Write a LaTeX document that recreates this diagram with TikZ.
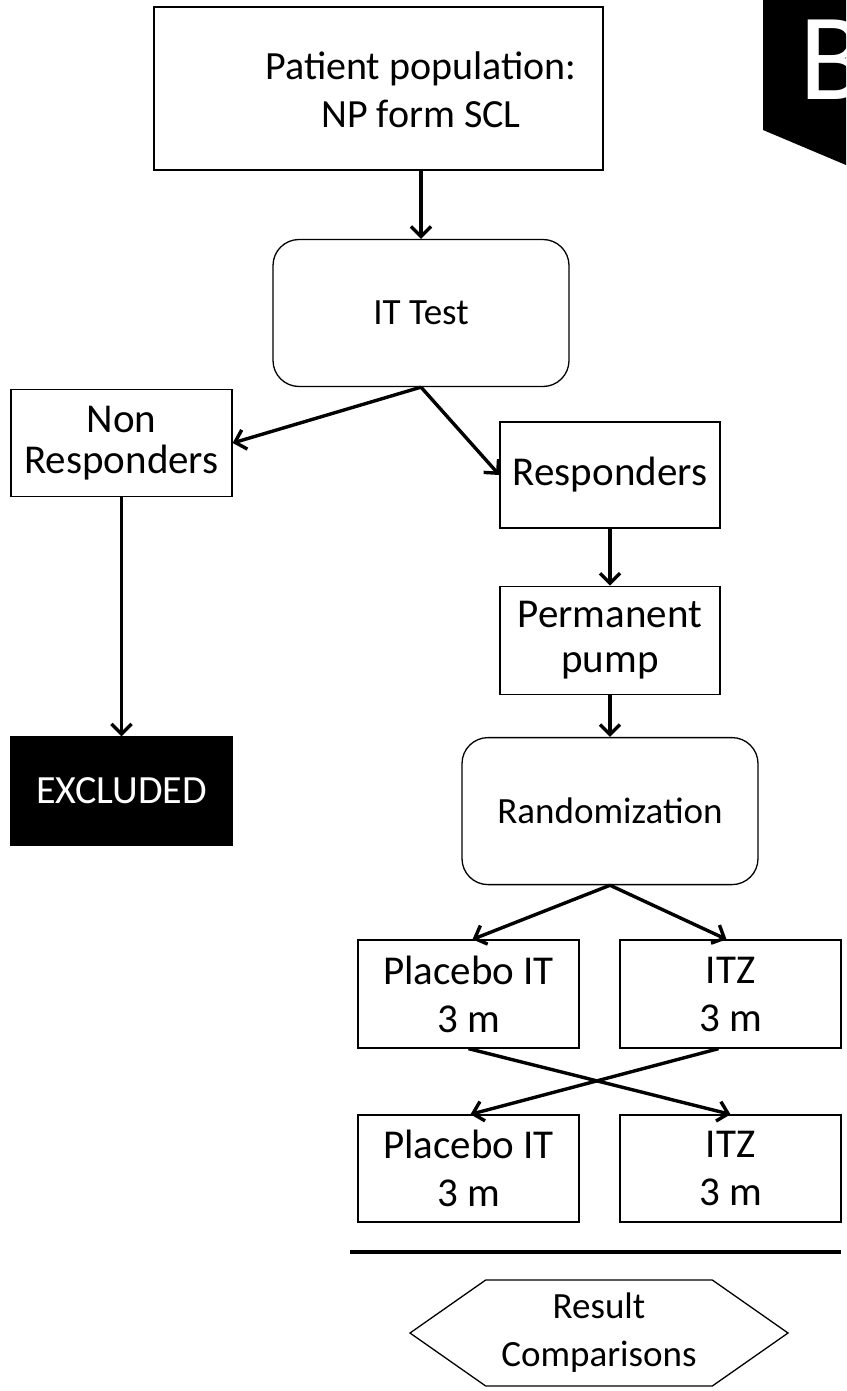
\documentclass[tikz,border=0pt]{standalone}
\usepackage{fontspec}
\setmainfont{Carlito}
\usepackage{tikz}
\usetikzlibrary{arrows.meta, positioning, shapes.symbols}

\begin{document}
\begin{tikzpicture}[
    x=1pt, y=-1pt,
    stepbox/.style={draw, line width=1.3pt, minimum width=221pt, minimum height=107pt,
                    inner sep=0pt, align=center, font=\fontsize{41}{48}\selectfont},
    roundbox/.style={stepbox, rounded corners=26pt, minimum width=296pt, minimum height=147pt},
    flow/.style={line width=3.4pt, -{Straight Barb[length=10pt, width=20pt]}}
]
    \useasboundingbox (0,0) rectangle (846,1391);

    % Tab in the corner
    \fill (763,0) -- (846,0) -- (846,165) -- (763,130) -- cycle;
    \node[white, anchor=base west, inner sep=0pt, font=\fontsize{124}{124}\selectfont] (tab) at (799,100) {B};

    % Population
    \node[stepbox, minimum width=449pt, minimum height=163pt] (pop) at (378.5,88.5) {};
    \node[align=center, inner sep=0pt, font=\fontsize{40}{48}\selectfont] (poptext) at (421,90) {Patient population:\\NP form SCL};

    % Test phase
    \node[roundbox, font=\fontsize{37}{44}\selectfont] (ittest) at (421,313) {IT Test};
    \node[stepbox, font=\fontsize{41}{41}\selectfont] (nonresp) at (121.5,443) {Non\\Responders};
    \node[stepbox, minimum width=220pt, minimum height=106pt] (resp) at (610,475) {Responders};
    \node[stepbox, minimum width=220pt, minimum height=108pt, font=\fontsize{41}{45}\selectfont,
          below=57pt of resp] (pump) {Permanent\\pump};
    \node[stepbox, fill=black, text=white, minimum height=108pt, font=\fontsize{40}{44}\selectfont] (excl) at (121.5,791) {EXCLUDED};

    % Randomization and cross-over
    \node[roundbox, font=\fontsize{37}{44}\selectfont, below=42pt of pump] (rand) {Randomization};
    \node[stepbox, minimum height=108pt] (plone) at (468.5,994) {Placebo IT\\3 m};
    \node[stepbox, minimum height=108pt] (itzone) at (730.5,994) {ITZ\\3 m};
    \node[stepbox] (pltwo) at (468.5,1168.5) {Placebo IT\\3 m};
    \node[stepbox] (itztwo) at (730.5,1168.5) {ITZ\\3 m};

    % Results
    \draw[line width=4pt] (350,1252) -- (841,1252);
    \node[draw, line width=1.3pt, shape=signal, signal to=west and east, signal pointer angle=70,
          minimum width=378pt, minimum height=106pt, inner sep=0pt, align=center,
          font=\fontsize{37}{48}\selectfont] (result) at (599,1333) {Result\\Comparisons};

    % Connectors
    \draw[flow] (ittest.north |- pop.south) -- (ittest.north);
    \draw[flow] (ittest.south) -- (nonresp.east);
    \draw[flow] (ittest.south) -- (resp.west);
    \draw[flow] (nonresp) -- (excl);
    \draw[flow] (resp) -- (pump);
    \draw[flow] (pump) -- (rand);
    \draw[flow] (rand.south) -- ([xshift=4pt]plone.north);
    \draw[flow] (rand.south) -- ([xshift=-4pt]itzone.north);
    \draw[flow] (plone.south) -- (itztwo.north);
    \draw[flow] ([xshift=-12pt]itzone.south) -- ([xshift=2pt]pltwo.north);
\end{tikzpicture}
\end{document}
